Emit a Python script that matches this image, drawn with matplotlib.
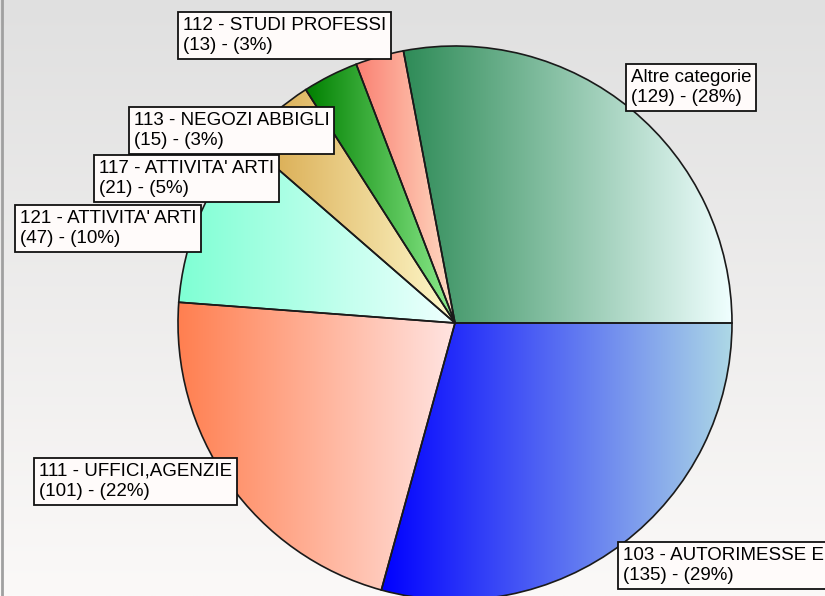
import matplotlib
matplotlib.use("Agg")
import matplotlib.pyplot as plt
import matplotlib.colors as mcolors
import numpy as np

# data
categories = [
    "Altre categorie",
    "112 - STUDI PROFESSI",
    "113 - NEGOZI ABBIGLI",
    "117 - ATTIVITA' ARTI",
    "121 - ATTIVITA' ARTI",
    "111 - UFFICI,AGENZIE",
    "103 - AUTORIMESSE E",
]
counts = [129, 13, 15, 21, 47, 101, 135]

# gradient colours (left -> right) for each slice
grad_start = ["#2e8b57", "#fa8072", "#008000", "#d6a445", "#7fffd4", "#ff7f50", "#0000ff"]
grad_end = ["#f0ffff", "#ffdcc4", "#90ee90", "#fffacd", "#f0ffff", "#ffe4e1", "#add8e6"]

# label box top-left corners in pixels (from the top of the image)
label_pos = [(625, 64), (177, 12), (128, 107), (93, 155), (14, 205), (33, 458), (617, 542)]

W, H = 825, 596
CENTER = (455, H - 323)
RADIUS = 277


def main():
    plt.rcParams["font.family"] = ["Liberation Sans", "DejaVu Sans"]
    fig = plt.figure(figsize=(W / 100, H / 100), dpi=100)
    ax = fig.add_axes([0, 0, 1, 1])

    # background: vertical grey gradient
    t = np.linspace(0, 1, 256)[:, None]
    top = np.array(mcolors.to_rgb("#e0e0e0"))
    bot = np.array(mcolors.to_rgb("#fbf9f8"))
    bg = (1 - t) * top + t * bot
    ax.imshow(bg[:, None, :].repeat(2, axis=1), extent=(0, W, 0, H),
              aspect="auto", zorder=0, interpolation="bilinear")
    ax.plot([2, 2], [0, H], color="#a0a0a0", lw=2, zorder=0.5)

    wedges, _ = ax.pie(counts, colors=["none"] * len(counts), startangle=0,
                       counterclock=True, center=CENTER, radius=RADIUS, frame=True,
                       wedgeprops=dict(edgecolor="#1a1a1a", linewidth=1.2))

    g = np.linspace(0, 1, 256)[:, None]
    for w, c0, c1 in zip(wedges, grad_start, grad_end):
        w.set_zorder(2)
        bb = w.get_path().get_extents()
        a = np.array(mcolors.to_rgb(c0))
        b = np.array(mcolors.to_rgb(c1))
        rgb = ((1 - g) * a + g * b)[None, :, :]
        im = ax.imshow(rgb, extent=(bb.x0, bb.x1, bb.y0, bb.y1), aspect="auto",
                       zorder=1, interpolation="bilinear")
        im.set_clip_path(w)

    total = sum(counts)
    # draw labels from bottom of the stack up so upper boxes overlap lower ones
    order = [6, 5, 4, 3, 2, 1, 0]
    for z, i in enumerate(order):
        pct = round(counts[i] / total * 100)
        txt = f"{categories[i]}\n({counts[i]}) - ({pct}%)"
        x, y = label_pos[i]
        ax.text(x + 6, H - y - 5, txt, ha="left", va="top", fontsize=13.5,
                linespacing=1.22, color="black", zorder=5 + z,
                bbox=dict(boxstyle="square,pad=0.25", fc="#fffbfa", ec="#111111", lw=1.3))

    ax.set_xlim(0, W)
    ax.set_ylim(0, H)
    ax.set_aspect("equal")
    ax.set_axis_off()
    fig.savefig("out.png", dpi=100)


if __name__ == "__main__":
    main()
